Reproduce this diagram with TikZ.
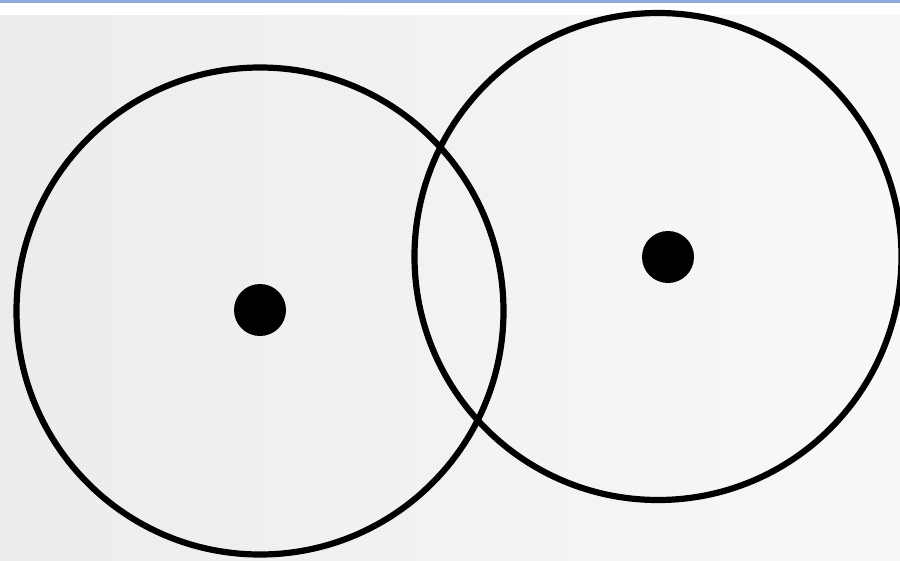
\documentclass[tikz,border=0pt]{standalone}
\usepackage{tikz}
\usetikzlibrary{positioning}

\definecolor{topline}{HTML}{8FAADC}
\definecolor{bgleft}{HTML}{ECECEC}
\definecolor{bgright}{HTML}{F8F8F8}

\begin{document}
\begin{tikzpicture}[x=1pt, y=-1pt,
    ring/.style={draw, circle, line width=6.2pt, minimum size=487pt, inner sep=0pt},
    centre/.style={fill, circle, minimum size=52pt, inner sep=0pt}
]
\useasboundingbox (0,0) rectangle (900,560);
% background
\fill[white] (0,0) rectangle (900,560);
\shade[left color=bgleft, right color=bgright] (0,15) rectangle (900,560);
\fill[topline] (0,0) rectangle (900,2.5);
% circles
\node[ring] (ringA) at (260,311) {};
\node[ring] (ringB) at (658,256.5) {};
\node[centre] (dotA) at (260,310) {};
\node[centre] (dotB) at (668,257) {};
\end{tikzpicture}
\end{document}
